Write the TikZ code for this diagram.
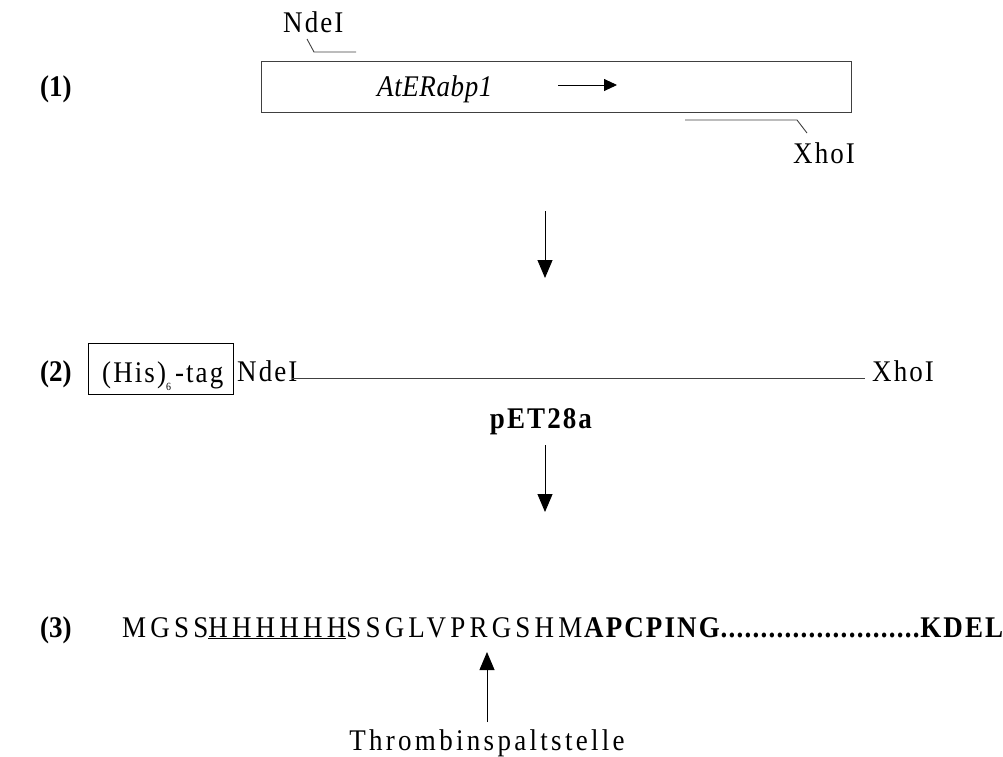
\documentclass[tikz,border=0pt]{standalone}
\usepackage{fontspec}
\setmainfont{Liberation Serif}[FakeStretch=0.9, LetterSpace=14]
\usetikzlibrary{arrows.meta}
\tikzset{
  lbl/.style={inner sep=0pt, anchor=base west, font=\fontsize{30}{34}\selectfont},
  site/.style={inner sep=0pt, anchor=base west, font=\fontsize{30}{34}\selectfont\addfontfeature{LetterSpace=7}},
  num/.style={inner sep=0pt, anchor=base west, font=\fontsize{30}{34}\selectfont\bfseries\addfontfeature{LetterSpace=0}},
  boldseq/.style={inner sep=0pt, anchor=base west, font=\fontsize{30}{34}\selectfont\bfseries\addfontfeature{LetterSpace=7}},
  thin/.style={line width=0.9pt, draw=black!75},
  bigarrow/.style={line width=0.9pt, -{Triangle[length=18pt,width=15pt]}},
}
\begin{document}
\begin{tikzpicture}[x=1pt,y=-1pt]
\useasboundingbox (0,0) rectangle (1003,756);
% row 1
\node[num] (n1) at (40,96) {(1)};
\node[draw=black!75, line width=0.9pt, minimum width=590pt, minimum height=51pt, inner sep=0pt, anchor=north west] (gene) at (261,61) {};
\node[lbl, font=\fontsize{30}{34}\selectfont\itshape\addfontfeature{LetterSpace=2}] (at) at (377,96) {AtERabp1};
\coordinate (a1s) at (558,85);
\coordinate (a1e) at (617,85);
\draw[line width=0.9pt, -{Triangle[length=13pt,width=12pt]}] (a1s) -- (a1e);
\node[site] (nde1) at (283,32) {NdeI};
\coordinate (nd1a) at (307,39);
\coordinate (nd1b) at (314,52);
\coordinate (nd1c) at (356,52);
\draw[thin] (nd1a) -- (nd1b) -- (nd1c);
\node[site] (xho1) at (793,163) {XhoI};
\coordinate (xh1a) at (685,120);
\coordinate (xh1b) at (797,120);
\coordinate (xh1c) at (807,133);
\draw[thin] (xh1a) -- (xh1b) -- (xh1c);
% arrow 1
\coordinate (d1s) at (545,211);
\coordinate (d1e) at (545,278);
\draw[bigarrow] (d1s) -- (d1e);
% row 2
\node[num] (n2) at (40,381) {(2)};
\node[draw=black, line width=0.9pt, minimum width=145pt, minimum height=51pt, inner sep=0pt, anchor=north west] (tag) at (88,343) {};
\node[site] (tagt) at (102,382) {(His)\raisebox{-8pt}{\fontsize{11}{12}\selectfont 6}\hspace{4pt}-tag};
\node[site] (nde2) at (237,381) {NdeI};
\node[site] (xho2) at (872,381) {XhoI};
\coordinate (l2a) at (292,378);
\coordinate (l2b) at (865,378);
\draw[thin] (l2a) -- (l2b);
\node[inner sep=0pt, anchor=base, font=\fontsize{30}{34}\selectfont\bfseries\addfontfeature{LetterSpace=7}] (pet) at (541,428) {pET28a};
% arrow 2
\coordinate (d2s) at (545,445);
\coordinate (d2e) at (545,512);
\draw[bigarrow] (d2s) -- (d2e);
% row 3
\node[num] (n3) at (40,637) {(3)};
\node[lbl] (seqa) at (122,637) {MGSS\underline{HHHHHH}SSGLVPRGSHM};
\node[boldseq] (seqb) at (584,637) {\hbox to 417pt{APCPING\xleaders\hbox to 7.75pt{\hss.\hss}\hfill KDEL\hspace{-2pt}}};
% thrombin
\node[lbl, anchor=base, font=\fontsize{30}{34}\selectfont\addfontfeature{LetterSpace=11}] (thr) at (487,750) {Thrombinspaltstelle};
\coordinate (t1) at (487,722);
\coordinate (t2) at (487,652);
\draw[bigarrow] (t1) -- (t2);
\end{tikzpicture}
\end{document}
